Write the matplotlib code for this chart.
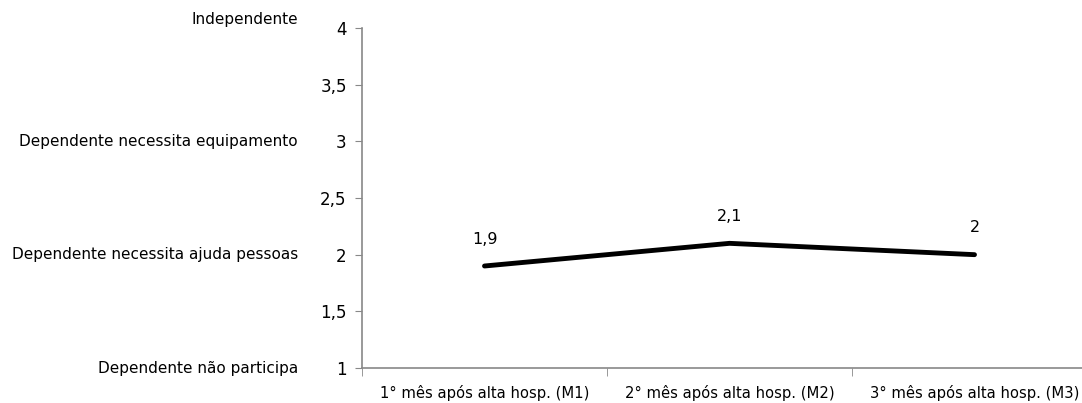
import matplotlib.pyplot as plt

# Nivel de dependencia medio por mes apos a alta hospitalar
meses = ["1° mês após alta hosp. (M1)", "2° mês após alta hosp. (M2)",
         "3° mês após alta hosp. (M3)"]
media = [1.9, 2.1, 2.0]
rotulos_media = ["1,9", "2,1", "2"]

yticks = [1, 1.5, 2, 2.5, 3, 3.5, 4]
ytick_labels = ["1", "1,5", "2", "2,5", "3", "3,5", "4"]
niveis = [4, 3, 2, 1]
niveis_nomes = ["Independente", "Dependente necessita equipamento",
                "Dependente necessita ajuda pessoas", "Dependente não participa"]

fig = plt.figure(figsize=(10.82, 4.03), dpi=100)
ax = fig.add_axes([362 / 1082, 35 / 403, 735 / 1082, 340 / 403])

x = list(range(len(meses)))
ax.plot(x, media, color="black", linewidth=3.5, solid_capstyle="round")
for xi, yi, txt in zip(x, media, rotulos_media):
    ax.annotate(txt, (xi, yi), xytext=(0, 14), textcoords="offset points",
                ha="center", va="bottom", fontsize=11.5)

ax.set_xlim(-0.5, len(meses) - 0.5)
ax.set_ylim(1, 4)
ax.set_yticks(yticks)
ax.set_yticklabels(ytick_labels, fontsize=12)
ax.set_xticks(x)
ax.set_xticklabels(meses, fontsize=10.6)
ax.tick_params(axis="x", length=0, pad=12)
ax.tick_params(axis="y", length=5, color="#888888", pad=6)

# marcas do eixo x entre as categorias
ax.set_xticks([i - 0.5 for i in range(len(meses) + 1)], minor=True)
ax.tick_params(axis="x", which="minor", length=6, color="#888888")

for s in ["top", "right"]:
    ax.spines[s].set_visible(False)
for s in ["left", "bottom"]:
    ax.spines[s].set_color("#888888")
    ax.spines[s].set_linewidth(1.2)

# descricao dos niveis a esquerda do eixo
for nv, nome in zip(niveis, niveis_nomes):
    dy = 6 if nv == 4 else 0
    ax.annotate(nome, (0, nv), xycoords=("axes fraction", "data"),
                xytext=(-46, dy), textcoords="offset points",
                ha="right", va="center", fontsize=11, annotation_clip=False)

fig.savefig("out.png", dpi=100)
